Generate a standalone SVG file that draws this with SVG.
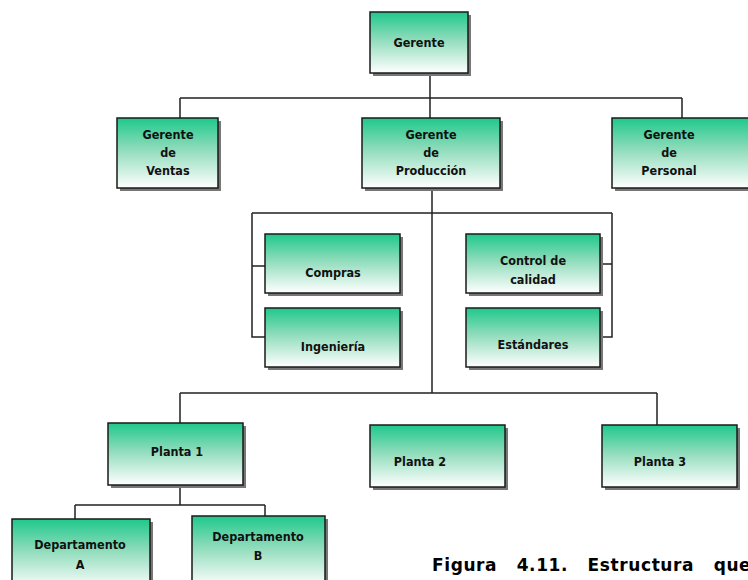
<svg xmlns="http://www.w3.org/2000/svg" width="748" height="580" viewBox="0 0 748 580">
<defs>
<linearGradient id="g" x1="0" y1="0" x2="0" y2="1">
<stop offset="0" stop-color="#1fc88c"/>
<stop offset="0.45" stop-color="#8fdcbb"/>
<stop offset="1" stop-color="#ffffff"/>
</linearGradient>
<style>
.box{fill:url(#g);stroke:#1a1a1a;stroke-width:1.5}
.sh{fill:#777}
.t{font-family:"DejaVu Sans Condensed","DejaVu Sans",sans-serif;font-weight:bold;font-size:12.5px;fill:#111;text-anchor:middle}
.c{fill:none;stroke:#222;stroke-width:1.5}
.cap{font-family:"DejaVu Sans",Verdana,sans-serif;font-weight:bold;font-size:17px;fill:#000}
</style>
</defs>
<rect width="748" height="580" fill="#fff"/>
<g id="connectors">
<path class="c" d="M430 75V118M180 98H682M180 98V118M682 98V118"/>
<path class="c" d="M432 190V393M252 213H612M252 213V337H265M252 266H265M612 213V337H600M612 264H600"/>
<path class="c" d="M180 393H657M180 393V425M657 393V425"/>
<path class="c" d="M180 487V505M75 505H265M75 505V519M265 505V516"/>
</g>
<g id="gerente"><rect class="sh" x="373" y="15" width="98" height="61"/><rect class="box" x="370" y="12" width="98" height="61"/><text class="t" x="419" y="47">Gerente</text></g>
<g id="ventas"><rect class="sh" x="120" y="121" width="101" height="70"/><rect class="box" x="117" y="118" width="101" height="70"/><text class="t" x="168" y="139">Gerente</text><text class="t" x="168" y="157">de</text><text class="t" x="168" y="175">Ventas</text></g>
<g id="produccion"><rect class="sh" x="365" y="121" width="138" height="70"/><rect class="box" x="362" y="118" width="138" height="70"/><text class="t" x="431" y="139">Gerente</text><text class="t" x="431" y="157">de</text><text class="t" x="431" y="175">Producción</text></g>
<g id="personal"><rect class="sh" x="615" y="121" width="140" height="70"/><rect class="box" x="612" y="118" width="140" height="70"/><text class="t" x="669" y="139">Gerente</text><text class="t" x="669" y="157">de</text><text class="t" x="669" y="175">Personal</text></g>
<g id="compras"><rect class="sh" x="268" y="237" width="135" height="59"/><rect class="box" x="265" y="234" width="135" height="59"/><text class="t" x="333" y="277">Compras</text></g>
<g id="ingenieria"><rect class="sh" x="268" y="311" width="135" height="59"/><rect class="box" x="265" y="308" width="135" height="59"/><text class="t" x="333" y="351">Ingeniería</text></g>
<g id="control"><rect class="sh" x="469" y="237" width="134" height="59"/><rect class="box" x="466" y="234" width="134" height="59"/><text class="t" x="533" y="265">Control de</text><text class="t" x="533" y="284">calidad</text></g>
<g id="estandares"><rect class="sh" x="469" y="311" width="134" height="59"/><rect class="box" x="466" y="308" width="134" height="59"/><text class="t" x="533" y="349">Estándares</text></g>
<g id="planta1"><rect class="sh" x="111" y="426" width="135" height="62"/><rect class="box" x="108" y="423" width="135" height="62"/><text class="t" x="177" y="456">Planta 1</text></g>
<g id="planta2"><rect class="sh" x="373" y="428" width="135" height="62"/><rect class="box" x="370" y="425" width="135" height="62"/><text class="t" x="420" y="466">Planta 2</text></g>
<g id="planta3"><rect class="sh" x="605" y="428" width="135" height="62"/><rect class="box" x="602" y="425" width="135" height="62"/><text class="t" x="660" y="466">Planta 3</text></g>
<g id="deptoA"><rect class="sh" x="15" y="522" width="138" height="70"/><rect class="box" x="12" y="519" width="138" height="70"/><text class="t" x="80" y="549">Departamento</text><text class="t" x="80" y="569">A</text></g>
<g id="deptoB"><rect class="sh" x="195" y="519" width="133" height="70"/><rect class="box" x="192" y="516" width="133" height="70"/><text class="t" x="258" y="541">Departamento</text><text class="t" x="258" y="560">B</text></g>
<text class="cap" x="432" y="571" word-spacing="13" letter-spacing="0.6">Figura 4.11. Estructura que</text>
</svg>
